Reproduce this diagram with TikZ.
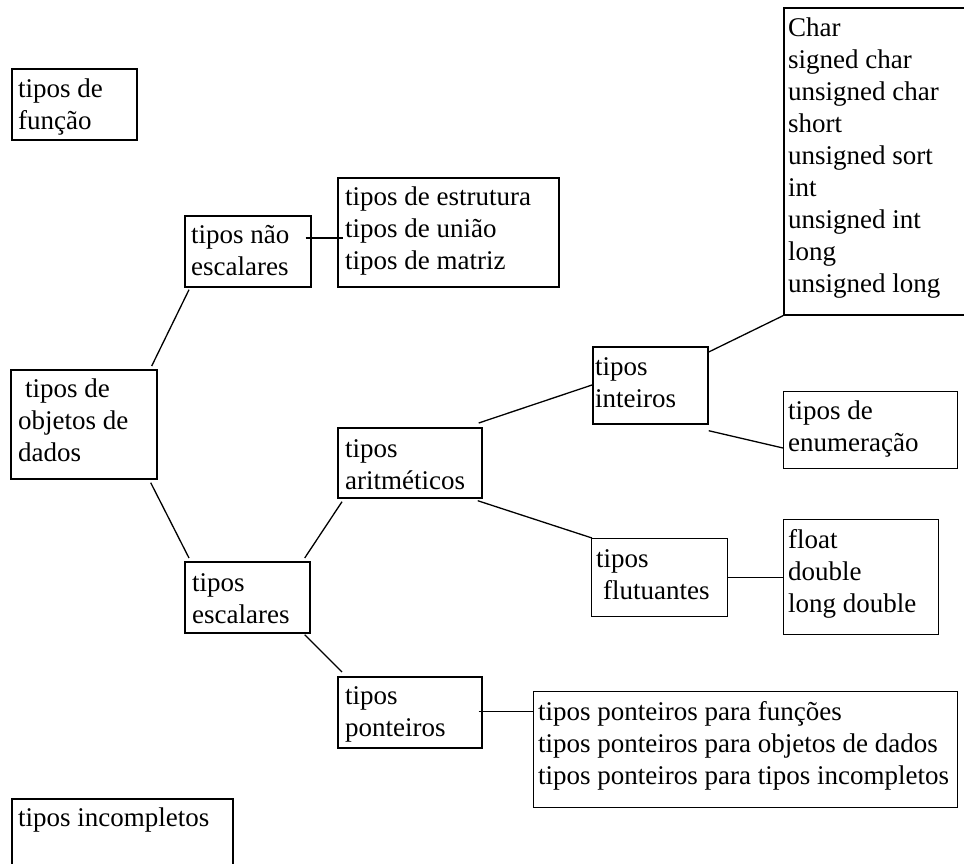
\documentclass[tikz,border=0pt]{standalone}
\usepackage{fontspec}
\setmainfont{Liberation Serif}
\begin{document}
\begin{tikzpicture}[x=1pt,y=-1pt,
  box/.style={draw=black, line width=1.7pt, rectangle, inner sep=0pt, anchor=north west},
  thinbox/.style={box, line width=1.3pt},
  txt/.style={anchor=north west, inner sep=0pt, align=left, font=\fontsize{27}{32}\selectfont},
  conn/.style={draw=black, line width=1.3pt}]
\useasboundingbox (0,0) rectangle (964,863);
\clip (0,0) rectangle (964,863);
% boxes
\node[box, minimum width=125pt, minimum height=71pt] (funcao) at (11,68) {};
\node[box, minimum width=126pt, minimum height=71pt] (naoesc) at (184,215) {};
\node[box, minimum width=221pt, minimum height=109pt] (estrutura) at (337,177) {};
\node[box, minimum width=192pt, minimum height=307pt] (char) at (783,7) {};
\node[box, minimum width=146pt, minimum height=109pt] (objetos) at (10,369) {};
\node[box, minimum width=115pt, minimum height=77pt] (inteiros) at (592,346) {};
\node[thinbox, minimum width=174pt, minimum height=77pt] (enum) at (783,391) {};
\node[box, minimum width=144pt, minimum height=70pt] (aritm) at (337,427) {};
\node[thinbox, minimum width=136pt, minimum height=78pt] (flut) at (591,538) {};
\node[thinbox, minimum width=155pt, minimum height=115pt] (float) at (783,519) {};
\node[box, minimum width=125pt, minimum height=71pt] (escalares) at (184,561) {};
\node[box, minimum width=144pt, minimum height=71pt] (ponteiros) at (337,676) {};
\node[thinbox, minimum width=424pt, minimum height=116pt] (para) at (533,691) {};
\node[box, minimum width=221pt, minimum height=82pt] (incompletos) at (11,798) {};
% texts
\node[txt] (funcao-t) at (18,74.6) {\strut tipos de\\função};
\node[txt] (naoesc-t) at (191,220.6) {\strut tipos não\\escalares};
\node[txt] (estrutura-t) at (345,182.6) {\strut tipos de estrutura\\tipos de união\\tipos de matriz};
\node[txt] (char-t) at (788,13.6) {\strut Char\\signed char\\unsigned char\\short\\unsigned sort\\int\\unsigned int\\long\\unsigned long};
\node[txt] (objetos-t) at (18,374.6) {\strut\hspace*{7pt}tipos de\\objetos de\\dados};
\node[txt] (inteiros-t) at (595,352.6) {\strut tipos\\inteiros};
\node[txt] (enum-t) at (788,396.6) {\strut tipos de\\enumeração};
\node[txt] (aritm-t) at (345,434.6) {\strut tipos\\aritméticos};
\node[txt] (flut-t) at (596,544.6) {\strut tipos\\\hspace*{7pt}flutuantes};
\node[txt] (float-t) at (788,525.6) {\strut float\\double\\long double};
\node[txt] (escalares-t) at (192,568.6) {\strut tipos\\escalares};
\node[txt] (ponteiros-t) at (345,681.6) {\strut tipos\\ponteiros};
\node[txt] (para-t) at (538,697.6) {\strut tipos ponteiros para funções\\tipos ponteiros para objetos de dados\\tipos ponteiros para tipos incompletos};
\node[txt] (incompletos-t) at (18,803.6) {\strut tipos incompletos};
% connectors
\draw[conn] ([shift={(-6,-3)}]objetos.north east) -- ([shift={(5,2)}]naoesc.south west);
\draw[conn] ([shift={(-7,3)}]objetos.south east) -- ([shift={(5,-3)}]escalares.north west);
\draw[conn] ([shift={(-6,23)}]naoesc.north east) -- ([shift={(6,61)}]estrutura.north west);
\draw[conn] ([shift={(-6,-3)}]escalares.north east) -- ([shift={(5,3)}]aritm.south west);
\draw[conn] ([shift={(-6,1)}]escalares.south east) -- ([shift={(5,-4)}]ponteiros.north west);
\draw[conn] ([shift={(-4,-4)}]aritm.north east) -- ([shift={(0,39)}]inteiros.north west);
\draw[conn] ([shift={(-5,2)}]aritm.south east) -- ([shift={(1,0)}]flut.north west);
\draw[conn] ([shift={(0,6)}]inteiros.north east) -- (char.south west);
\draw[conn] ([shift={(0,6)}]inteiros.south east) -- ([shift={(0,57)}]enum.north west);
\draw[conn] (flut.east) -- (flut.east -| float.west);
\draw[conn] ([shift={(-4,-1)}]ponteiros.east) -- ([yshift=1pt]ponteiros.east -| para.west);
\end{tikzpicture}
\end{document}
